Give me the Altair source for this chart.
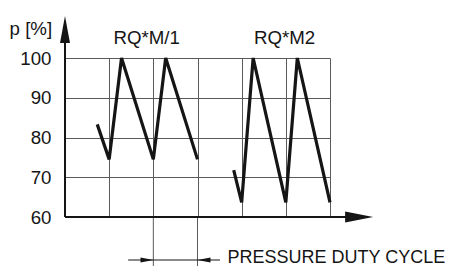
import altair as alt
import pandas as pd

# --- data ---
s1_x = [0.73, 1.0, 1.28, 2.0, 2.28, 3.0]
s1_y = [83.3, 74.5, 100, 74.5, 100, 74.5]
s2_x = [3.82, 4.0, 4.26, 5.0, 5.26, 6.0]
s2_y = [71.8, 63.7, 100, 63.7, 100, 63.7]
series_names = ["RQ*M/1", "RQ*M2"]
label_x = [1.85, 4.97]
label_y = [105.0, 105.0]
y_ticks = [60, 70, 80, 90, 100]
x_grid = [1, 2, 3, 4, 5, 6]
y_title = "p [%]"
x_title = "PRESSURE DUTY CYCLE"
cycle_marks = [2, 3]

FONT = "Liberation Sans"
FS = 18.7
INK = "#151515"
GRID = "#5a5a5a"

xs = alt.Scale(domain=[0, 6], nice=False, zero=False)
ys = alt.Scale(domain=[60, 100], nice=False, zero=False)
x_axis = alt.Axis(values=x_grid, labels=False, ticks=False, domain=False,
                  grid=True, gridColor=GRID, gridWidth=1, title=None)
y_axis = alt.Axis(values=y_ticks, ticks=False, domain=False, grid=True,
                  gridColor=GRID, gridWidth=1, title=None,
                  labelFont=FONT, labelFontSize=FS, labelColor=INK, labelPadding=14)
X = alt.X("x:Q", scale=xs, axis=x_axis)
Y = alt.Y("y:Q", scale=ys, axis=y_axis)

lines_df = pd.DataFrame(
    [{"x": x, "y": y, "s": series_names[0], "o": i} for i, (x, y) in enumerate(zip(s1_x, s1_y))]
    + [{"x": x, "y": y, "s": series_names[1], "o": i} for i, (x, y) in enumerate(zip(s2_x, s2_y))]
)

lines = alt.Chart(lines_df).mark_line(
    color=INK, strokeWidth=3.2, strokeJoin="miter", strokeMiterLimit=4, strokeCap="butt"
).encode(x=X, y=Y, detail="s:N", order="o:Q")

# axis lines with arrows
axis_df = pd.DataFrame({"x": [0, 0], "y": [60, 60], "x2": [0, 6.5], "y2": [105, 60]})
axes = alt.Chart(axis_df).mark_rule(color=INK, strokeWidth=2).encode(
    x=X, y=Y, x2="x2:Q", y2="y2:Q",
)

up_arrow = alt.Chart(pd.DataFrame({"x": [0], "y": [107.2]})).mark_point(
    shape="M0,-1L0.37,1L-0.37,1Z", size=729, filled=True, color=INK, opacity=1, strokeWidth=0
).encode(x=X, y=Y)

right_arrow = alt.Chart(pd.DataFrame({"x": [6.66], "y": [60]})).mark_point(
    shape="M1,0L-1,-0.39L-1,0.39Z", size=784, filled=True, color=INK, opacity=1, strokeWidth=0
).encode(x=X, y=Y)

# duty-cycle dimension
ext_df = pd.DataFrame({"x": cycle_marks, "y": [60, 60], "y2": [44, 44]})
ext = alt.Chart(ext_df).mark_rule(color=GRID, strokeWidth=1).encode(x=X, y=Y, y2="y2:Q")
dim_df = pd.DataFrame({"x": [1.43], "x2": [3.51], "y": [49.18]})
dim = alt.Chart(dim_df).mark_rule(color=INK, strokeWidth=1).encode(x=X, x2="x2:Q", y=Y)
dim_l = alt.Chart(pd.DataFrame({"x": [1.857], "y": [49.18]})).mark_point(
    shape="M1,0L-1,-0.38L-1,0.38Z", size=169, filled=True, color=INK, opacity=1, strokeWidth=0
).encode(x=X, y=Y)
dim_r = alt.Chart(pd.DataFrame({"x": [3.147], "y": [49.18]})).mark_point(
    shape="M-1,0L1,-0.38L1,0.38Z", size=169, filled=True, color=INK, opacity=1, strokeWidth=0
).encode(x=X, y=Y)

# texts
labels = alt.Chart(pd.DataFrame({"x": label_x, "y": label_y, "t": series_names})).mark_text(
    font=FONT, fontSize=FS, color=INK, align="center", baseline="middle"
).encode(x=X, y=Y, text="t:N")

ytitle = alt.Chart(pd.DataFrame({"x": [-0.29], "y": [107.2], "t": [y_title]})).mark_text(
    font=FONT, fontSize=FS, color=INK, align="right", baseline="middle"
).encode(x=X, y=Y, text="t:N")

xtitle = alt.Chart(pd.DataFrame({"x": [3.68], "y": [49.8], "t": [x_title]})).mark_text(
    font=FONT, fontSize=18, color=INK, align="left", baseline="middle"
).encode(x=X, y=Y, text="t:N")

chart = alt.layer(
    ext, dim, dim_l, dim_r, lines, axes, up_arrow, right_arrow, labels, ytitle, xtitle
).properties(
    width=265, height=159,
    autosize=alt.AutoSizeParams(type="none"),
    padding={"left": 57, "top": 50, "right": 115, "bottom": 49},
    background="white",
).configure_view(stroke=None)

chart.save("out.html", embed_options={"renderer": "svg", "actions": False})
